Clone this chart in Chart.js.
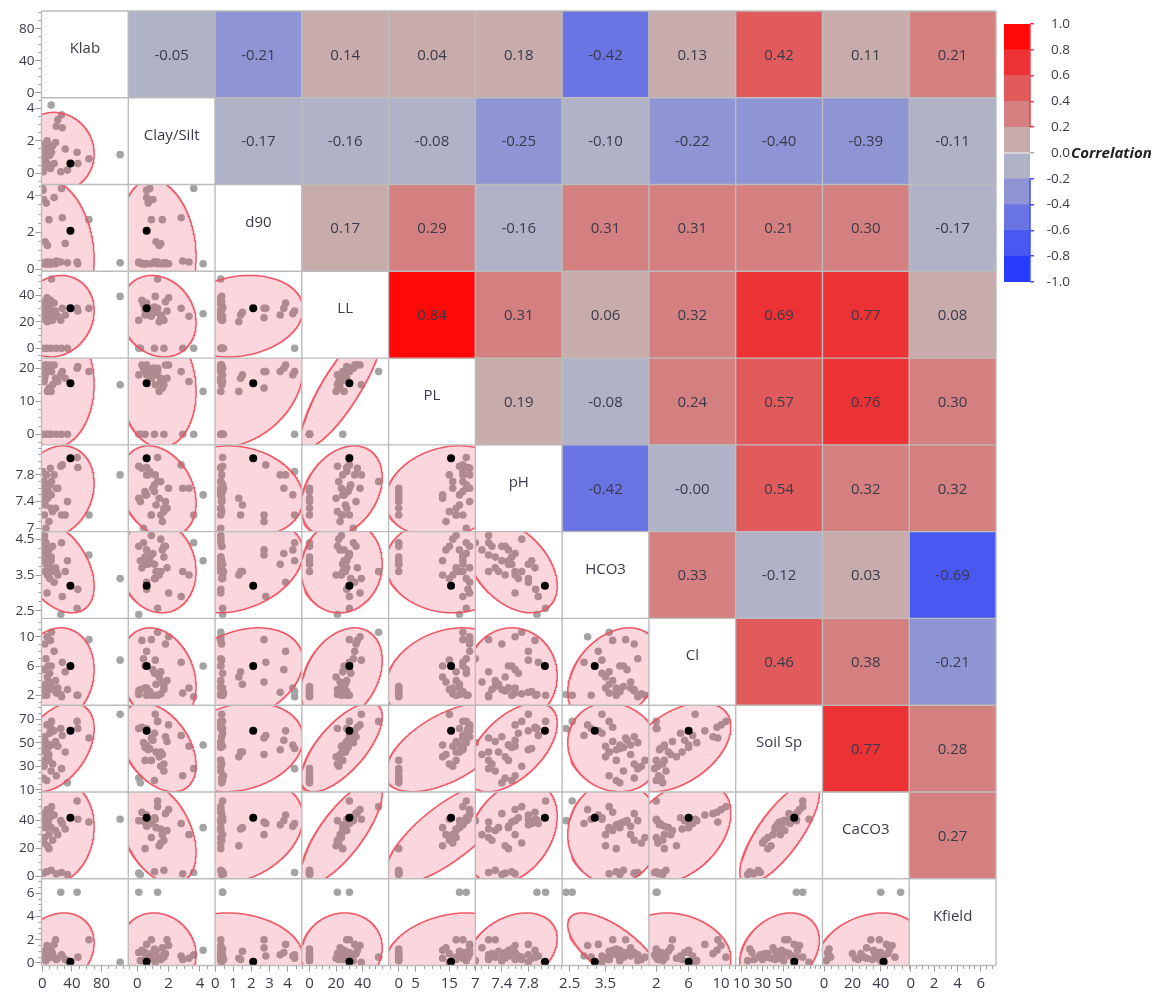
<!DOCTYPE html>
<html>
<head>
<meta charset="utf-8">
<title>Scatterplot matrix</title>
<script src="https://cdn.jsdelivr.net/npm/chart.js@4.4.1/dist/chart.umd.min.js"></script>
<style>
  html, body { margin: 0; padding: 0; background: #fff; }
  #page { position: relative; width: 1160px; height: 996px; overflow: hidden; }
  #matrix { position: absolute; left: 0; top: 0; }
  #scale { position: absolute; left: 995px; top: 0; }
</style>
</head>
<body>
<div id="page">
  <canvas id="matrix" width="1000" height="996"></canvas>
  <canvas id="scale" width="165" height="300"></canvas>
</div>
<script>
const VARS = ['Klab', 'Clay/Silt', 'd90', 'LL', 'PL', 'pH', 'HCO3', 'Cl', 'Soil Sp', 'CaCO3', 'Kfield'];

// one value per sample, same sample order in every array (sample 0 = highlighted row)
const KLAB      = [38, 105, 1.5, 6, 12, 19, 26, 34, 9, 25, 47, 0.5, 1, 2, 2.5, 3, 3.5, 4, 5, 5.5, 6.5, 7, 8, 9, 10, 11, 12, 12.5, 14, 16, 18, 21, 27, 31, 48, 63];
const CLAY_SILT = [0.6, 1.15, 0.1, 1.1, 1.7, 2.9, 3.6, 0.2, 0.5, 0.1, 1.3, 0.8, 0.6, 1.0, 1.5, 0.9, 1.8, 1.2, 0.4, 0.7, 2.0, 1.4, 0.5, 1.6, 1.1, 0.3, 4.2, 1.3, 1.7, 0.6, 1.9, 3.3, 2.8, 1.5, 0.6, 0.9];
const D90       = [2.1, 0.35, 0.35, 0.4, 0.3, 0.45, 4.4, 0.35, 0.3, 0.4, 0.4, 4.4, 4.3, 3.8, 0.3, 0.3, 0.35, 1.5, 0.3, 3.6, 0.3, 1.3, 0.3, 2.7, 0.4, 0.3, 0.3, 0.3, 0.35, 3.9, 0.3, 0.4, 2.8, 1.4, 0.3, 2.7];
const LL        = [30, 39, 0, 0, 0, 0, 0, 0, 25, 21, 30, 28, 26, 30, 22, 24, 35, 27, 33, 25, 38, 20, 29, 23, 31, 36, 26, 52, 21, 34, 28, 24, 30, 25, 28, 30];
const PL        = [15.5, 15, 0, 0, 0, 0, 0, 0, 0, 18, 20, 19, 18, 20, 16, 17, 21, 18, 20, 19, 21, 13, 19, 14, 20, 21, 13, 19, 15, 21, 17, 16, 19, 17, 20.5, 19];
const PH        = [8.05, 7.8, 7.45, 7.55, 7.3, 7.6, 7.2, 7.4, 7.5, 7.93, 8.06, 7.85, 7.5, 7.6, 7.7, 7.2, 7.4, 7.35, 7.0, 7.8, 7.6, 7.45, 7.55, 7.1, 7.65, 7.9, 7.5, 7.7, 7.25, 7.8, 7.3, 7.6, 7.95, 7.2, 7.91, 7.2];
const HCO3      = [3.2, 3.4, 4.3, 3.8, 4.0, 3.6, 4.4, 3.9, 3.8, 2.4, 2.57, 3.9, 4.2, 4.1, 4.5, 4.6, 4.3, 3.6, 4.4, 3.8, 3.0, 3.5, 4.0, 4.2, 3.4, 3.7, 3.9, 3.6, 4.3, 3.3, 3.7, 3.5, 2.9, 3.6, 3.1, 4.06];
const CL        = [6.0, 6.8, 2.6, 2.0, 3.2, 2.3, 1.8, 2.8, 3.0, 2.1, 2.0, 2.5, 3.0, 5.5, 2.2, 2.0, 9.0, 3.5, 7.0, 2.4, 10.0, 4.5, 6.0, 3.8, 5.0, 9.5, 6.0, 10.6, 2.8, 8.0, 4.0, 3.0, 6.5, 5.2, 2.0, 9.6];
const SOIL_SP   = [60, 74, 20, 18, 26, 22, 28, 16, 35, 62, 68, 45, 48, 52, 30, 35, 55, 42, 50, 44, 65, 38, 46, 40, 58, 63, 48, 68, 32, 60, 51, 47, 56, 42, 62, 54];
const CACO3     = [42, 41, 2.5, 3.5, 4.5, 2, 3, 1.5, 20, 40, 54, 38, 36, 40, 24, 28, 45, 35, 40, 37, 48, 22, 39, 30, 42, 46, 35, 50, 26, 44, 33, 30, 38, 34, 41, 39];
const KFIELD    = [0.1, 0.05, 0.9, 1.2, 0.5, 0.3, 0.7, 0.2, 0.8, 6.1, 6.1, 0.4, 0.6, 0.9, 0.3, 0.5, 0.8, 1.0, 0.2, 0.7, 1.5, 0.4, 0.9, 1.3, 0.6, 1.1, 1.1, 0.5, 0.8, 1.6, 2.0, 0.4, 0.6, 0.3, 0.5, 2.0];
const SAMPLES = [KLAB, CLAY_SILT, D90, LL, PL, PH, HCO3, CL, SOIL_SP, CACO3, KFIELD];
const HIGHLIGHT = 0;

// correlations as printed above the diagonal: row i, columns i+1 .. 10
const CORR = [
  ['-0.05', '-0.21', '0.14', '0.04', '0.18', '-0.42', '0.13', '0.42', '0.11', '0.21'],
  ['-0.17', '-0.16', '-0.08', '-0.25', '-0.10', '-0.22', '-0.40', '-0.39', '-0.11'],
  ['0.17', '0.29', '-0.16', '0.31', '0.31', '0.21', '0.30', '-0.17'],
  ['0.84', '0.31', '0.06', '0.32', '0.69', '0.77', '0.08'],
  ['0.19', '-0.08', '0.24', '0.57', '0.76', '0.30'],
  ['-0.42', '-0.00', '0.54', '0.32', '0.32'],
  ['0.33', '-0.12', '0.03', '-0.69'],
  ['0.46', '0.38', '-0.21'],
  ['0.77', '0.28'],
  ['0.27']
];

// axis ranges (bottom axes per column, left axes per row) and labelled ticks
const X_RANGE = [[-1, 116], [-0.57, 4.96], [-0.02, 4.8], [-5.8, 59.5], [-3, 22.7], [7.0, 8.31], [2.29, 4.71], [1.1, 11.8], [4.7, 86.6], [-1.2, 60.1], [-0.13, 7.3]];
const Y_RANGE = [[-6, 102.5], [-0.69, 4.65], [-0.11, 4.61], [-7.3, 57.8], [-3.2, 23.1], [6.95, 8.25], [2.29, 4.71], [0.65, 12.5], [8.3, 81.7], [-1.5, 60.5], [-0.22, 7.26]];
const X_TICKS = [[0, 40, 80], [0, 2, 4], [0, 1, 2, 3, 4], [0, 20, 40], [0, 5, 15], [7, 7.4, 7.8], [2.5, 3.5], [2, 6, 10], [10, 30, 50], [0, 20, 40], [0, 2, 4, 6]];
const Y_TICKS = [[0, 40, 80], [0, 2, 4], [0, 2, 4], [0, 20, 40], [0, 10, 20], [7, 7.4, 7.8], [2.5, 3.5, 4.5], [2, 6, 10], [10, 30, 50, 70], [0, 20, 40], [0, 2, 4, 6]];
const MINOR_STEP = [10, 0.5, 0.5, 5, 2.5, 0.1, 0.25, 1, 5, 5, 0.5];

const LEGEND_EDGES = [-1, -0.8, -0.6, -0.4, -0.2, 0, 0.2, 0.4, 0.6, 0.8, 1];

const NEG_COLORS = ['rgb(176,178,200)', 'rgb(142,148,212)', 'rgb(106,116,226)', 'rgb(72,88,240)', 'rgb(40,60,255)'];
const POS_COLORS = ['rgb(200,172,172)', 'rgb(213,128,128)', 'rgb(225,90,92)', 'rgb(236,50,52)', 'rgb(255,8,8)'];
const ELLIPSE_FILL = 'rgba(235,30,60,0.18)';
const ELLIPSE_LINE = 'rgba(238,80,96,0.95)';
const POINT_GREY = 'rgb(163,163,163)';
const TEXT = '#3a3a48';
const FONT = "'Open Sans', 'Noto Sans', sans-serif";
const AXIS_W = 41.5;
const AXIS_H = 30.5;

Chart.defaults.font.family = FONT;

function corrColor(text) {
  const v = Math.abs(parseFloat(text));
  const bin = Math.min(4, Math.max(0, Math.ceil(v / 0.2 - 1e-6) - 1));
  return text.startsWith('-') ? NEG_COLORS[bin] : POS_COLORS[bin];
}

function corrValue(a, b) {
  const i = Math.min(a, b), j = Math.max(a, b);
  return parseFloat(CORR[i][j - i - 1]);
}

function meanSd(arr) {
  const m = arr.reduce((s, v) => s + v, 0) / arr.length;
  const v = arr.reduce((s, x) => s + (x - m) * (x - m), 0) / (arr.length - 1);
  return [m, Math.sqrt(v)];
}

function clamp(v, lo, hi) { return Math.min(hi, Math.max(lo, v)); }

/* ---- 95% density ellipse: sample means/sds, printed correlation ---- */

function densityEllipse(j, i) {
  const [mx, sx] = meanSd(SAMPLES[j]);
  const [my, sy] = meanSd(SAMPLES[i]);
  const r = corrValue(i, j);
  const q = Math.sqrt(1 - r * r);
  const c = Math.sqrt(5.991);
  const ax = c * sx, by = c * sy;
  const [x0, x1] = X_RANGE[j];
  const [y0, y1] = Y_RANGE[i];

  // filled area, cut to the cell by vertical slices
  const lo = Math.max(mx - ax, x0), hi = Math.min(mx + ax, x1);
  const upper = [], lower = [];
  for (let k = 0; k <= 160; k++) {
    const x = lo + (hi - lo) * k / 160;
    const u = clamp((x - mx) / ax, -1, 1);
    const s = Math.sqrt(1 - u * u);
    upper.push({ x, y: clamp(my + by * (r * u + q * s), y0, y1) });
    lower.push({ x, y: clamp(my + by * (r * u - q * s), y0, y1) });
  }
  const area = upper.concat(lower.reverse());

  // outline, broken where it leaves the cell
  const ring = [];
  for (let k = 0; k <= 720; k++) {
    const t = 2 * Math.PI * k / 720;
    ring.push({ x: mx + ax * Math.cos(t), y: my + by * (r * Math.cos(t) + q * Math.sin(t)) });
  }
  const inside = ring.map(p => p.x >= x0 && p.x <= x1 && p.y >= y0 && p.y <= y1);
  const outline = ring.map((p, k) => (inside[k] || inside[k - 1] || inside[k + 1]) ? p : { x: p.x, y: null });
  return { area, outline };
}

/* ---- stacked per-variable axes ---- */

function stackedAxis(k, horizontal) {
  const range = horizontal ? X_RANGE[k] : Y_RANGE[k];
  const labels = horizontal ? X_TICKS[k] : Y_TICKS[k];
  const isMajor = (v) => labels.some(t => Math.abs(t - v) < 1e-6);
  return {
    type: 'linear',
    axis: horizontal ? 'x' : 'y',
    position: horizontal ? 'bottom' : 'left',
    stack: horizontal ? 'cols' : 'rows',
    stackWeight: 1,
    weight: horizontal ? k : VARS.length - k,
    min: range[0],
    max: range[1],
    offset: false,
    afterBuildTicks: (scale) => {
      const step = MINOR_STEP[k];
      const ticks = [];
      for (let n = Math.ceil(range[0] / step - 1e-9); n * step <= range[1] + 1e-9; n++) {
        ticks.push({ value: +(n * step).toFixed(6) });
      }
      scale.ticks = ticks;
    },
    afterFit: (scale) => {
      if (horizontal) scale.height = AXIS_H;
      else scale.width = AXIS_W;
    },
    grid: {
      drawOnChartArea: false, drawTicks: true, tickLength: 6, tickColor: '#9c9c9c', lineWidth: 1,
      // minor ticks: only the 3px next to the axis line is drawn
      tickBorderDash: (c) => (c.tick && isMajor(c.tick.value)) ? [] : [3, 30],
      tickBorderDashOffset: (c) => (c.tick && isMajor(c.tick.value)) || horizontal ? 0 : 30
    },
    border: { display: false },
    ticks: {
      autoSkip: false,
      maxRotation: 0,
      padding: horizontal ? 3 : 1,
      color: TEXT,
      font: { size: horizontal ? 15 : 13.5 },
      callback: (v) => {
        const hit = labels.find(t => Math.abs(t - v) < 1e-6);
        return hit === undefined ? '' : String(hit);
      }
    }
  };
}

const scales = {
  // hidden cell-index scales used by the correlation heat map
  x: { type: 'linear', position: 'top', display: false, min: 0, max: VARS.length, offset: false, ticks: { stepSize: 1 } },
  y: { type: 'linear', position: 'right', display: false, min: 0, max: VARS.length, reverse: true, offset: false, ticks: { stepSize: 1 } }
};
VARS.forEach((_, k) => {
  scales['x' + k] = stackedAxis(k, true);
  scales['y' + k] = stackedAxis(k, false);
});

/* ---- datasets ---- */

const datasets = [];
const cells = [], cellColors = [], cellText = [];
CORR.forEach((row, i) => row.forEach((t, n) => {
  cells.push({ x: i + n + 1.5, y: [i, i + 1] });
  cellColors.push(corrColor(t));
  cellText.push(t);
}));
datasets.push({
  type: 'bar', label: 'Correlation', data: cells, backgroundColor: cellColors,
  xAxisID: 'x', yAxisID: 'y', grouped: false, barPercentage: 1, categoryPercentage: 1,
  borderWidth: 0, order: 10
});

for (let i = 1; i < VARS.length; i++) {
  for (let j = 0; j < i; j++) {
    const axes = { xAxisID: 'x' + j, yAxisID: 'y' + i };
    const pts = SAMPLES[j].map((x, s) => ({ x, y: SAMPLES[i][s] }));
    const e = densityEllipse(j, i);
    datasets.push({ type: 'scatter', data: pts.filter((_, s) => s !== HIGHLIGHT),
      backgroundColor: POINT_GREY, borderWidth: 0, pointRadius: 3.8, order: 4, ...axes });
    datasets.push({ type: 'line', data: e.area, fill: 'shape', backgroundColor: ELLIPSE_FILL,
      borderColor: 'rgba(0,0,0,0)', borderWidth: 0, pointRadius: 0, tension: 0, order: 3, ...axes });
    datasets.push({ type: 'line', data: e.outline, fill: false, borderColor: ELLIPSE_LINE,
      borderWidth: 1.5, pointRadius: 0, tension: 0, spanGaps: false, order: 2, ...axes });
    datasets.push({ type: 'scatter', data: [pts[HIGHLIGHT]],
      backgroundColor: '#000', borderWidth: 0, pointRadius: 4, order: 1, ...axes });
  }
}

/* ---- labels, numbers and cell borders ---- */

const matrixDecor = {
  id: 'matrixDecor',
  afterDatasetsDraw(chart) {
    const { ctx, chartArea: a } = chart;
    ctx.save();
    ctx.textAlign = 'center';
    ctx.textBaseline = 'middle';
    ctx.fillStyle = TEXT;
    ctx.font = '15px ' + FONT;
    chart.getDatasetMeta(0).data.forEach((bar, k) => {
      ctx.fillText(cellText[k], bar.x, (bar.y + bar.base) / 2 + 1);
    });
    VARS.forEach((name, k) => {
      const xs = chart.scales['x' + k], ys = chart.scales['y' + k];
      ctx.fillText(name, (xs.left + xs.right) / 2, ys.top + (ys.bottom - ys.top) * 0.435);
    });

    ctx.strokeStyle = '#bcbcbc';
    ctx.lineWidth = 1.4;
    ctx.beginPath();
    VARS.forEach((_, k) => {
      const xs = chart.scales['x' + k], ys = chart.scales['y' + k];
      ctx.moveTo(xs.left, a.top); ctx.lineTo(xs.left, a.bottom);
      ctx.moveTo(a.left, ys.top); ctx.lineTo(a.right, ys.top);
    });
    ctx.moveTo(a.right, a.top); ctx.lineTo(a.right, a.bottom);
    ctx.moveTo(a.left, a.bottom); ctx.lineTo(a.right, a.bottom);
    ctx.stroke();
    ctx.restore();
  }
};

new Chart(document.getElementById('matrix'), {
  type: 'scatter',
  data: { datasets },
  options: {
    responsive: false,
    animation: false,
    devicePixelRatio: 1,
    events: [],
    layout: { padding: { top: 11, right: 2.5, left: 0, bottom: 0 } },
    plugins: { legend: { display: false }, tooltip: { enabled: false } },
    scales
  },
  plugins: [matrixDecor]
});

/* ---- colour scale ---- */

const legendSets = LEGEND_EDGES.slice(0, -1).map((lo, k) => ({
  data: [[lo, LEGEND_EDGES[k + 1]]],
  backgroundColor: k < 5 ? NEG_COLORS[4 - k] : POS_COLORS[k - 5],
  grouped: false, barPercentage: 1, categoryPercentage: 1, borderWidth: 0
}));

const corrTitle = {
  id: 'corrTitle',
  afterDraw(chart) {
    const s = chart.scales.y;
    const ctx = chart.ctx;
    ctx.save();
    // coloured edge of the bar
    ctx.lineWidth = 1.5;
    ctx.strokeStyle = '#e8404a';
    ctx.beginPath();
    ctx.moveTo(s.left, s.getPixelForValue(1)); ctx.lineTo(s.left, s.getPixelForValue(0.2));
    ctx.stroke();
    ctx.strokeStyle = '#4050f0';
    ctx.beginPath();
    ctx.moveTo(s.left, s.getPixelForValue(-0.2)); ctx.lineTo(s.left, s.getPixelForValue(-1));
    ctx.stroke();

    ctx.font = 'italic bold 15px ' + FONT;
    ctx.fillStyle = '#222';
    ctx.textAlign = 'left';
    ctx.textBaseline = 'middle';
    ctx.fillText('Correlation', s.left + 41, s.getPixelForValue(0) + 1);
    ctx.restore();
  }
};

new Chart(document.getElementById('scale'), {
  type: 'bar',
  data: { labels: [''], datasets: legendSets },
  options: {
    responsive: false,
    animation: false,
    devicePixelRatio: 1,
    events: [],
    layout: { padding: { left: 9, top: 24, bottom: 18, right: 90 } },
    plugins: { legend: { display: false }, tooltip: { enabled: false } },
    scales: {
      x: { display: false },
      y: {
        position: 'right', min: -1, max: 1,
        afterFit: (s) => { s.width = 40; },
        grid: {
          drawOnChartArea: false, tickLength: 4, lineWidth: 1.5,
          tickColor: (c) => c.tick && c.tick.value > 1e-6 ? '#e8404a' : (c.tick && c.tick.value < -1e-6 ? '#4050f0' : '#aaaaaa')
        },
        border: { display: false },
        ticks: {
          stepSize: 0.2, autoSkip: false, padding: 9, crossAlign: 'far', color: TEXT,
          font: { size: 13.5 },
          callback: (v) => (Math.abs(v) < 1e-9 ? 0 : v).toFixed(1)
        }
      }
    }
  },
  plugins: [corrTitle]
});
</script>
</body>
</html>
